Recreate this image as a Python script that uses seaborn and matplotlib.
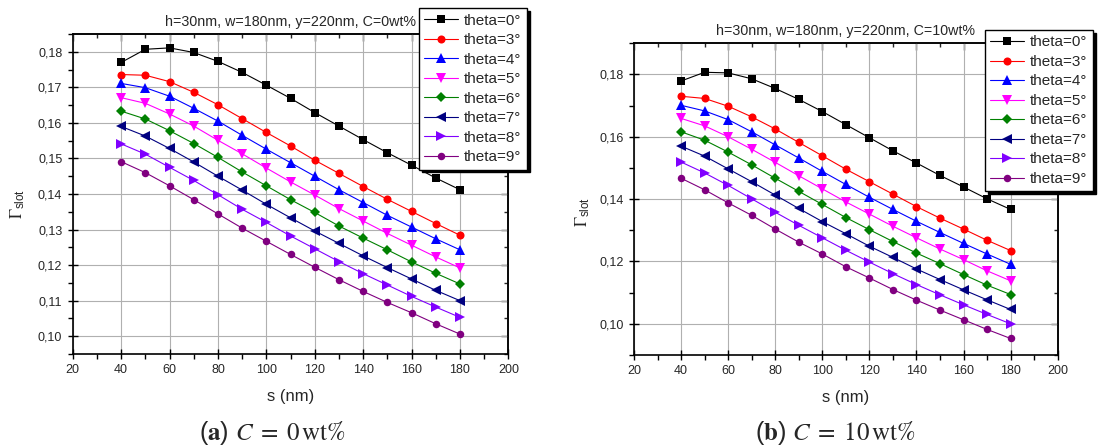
import pandas as pd
import seaborn as sns
import matplotlib.pyplot as plt
from matplotlib.lines import Line2D
from matplotlib.ticker import MultipleLocator, FuncFormatter

# slot width s (nm)
s_nm = [40, 50, 60, 70, 80, 90, 100, 110, 120, 130, 140, 150, 160, 170, 180]
theta_labels = ["theta=0°", "theta=3°", "theta=4°", "theta=5°",
                "theta=6°", "theta=7°", "theta=8°", "theta=9°"]

# (a) C = 0 wt%
c0_theta0 = [0.1770, 0.1807, 0.1811, 0.1798, 0.1773, 0.1742, 0.1706, 0.1669, 0.1629, 0.1591, 0.1553, 0.1516, 0.1481, 0.1445, 0.1412]
c0_theta3 = [0.1736, 0.1734, 0.1716, 0.1686, 0.1651, 0.1612, 0.1573, 0.1535, 0.1495, 0.1458, 0.1421, 0.1385, 0.1351, 0.1317, 0.1284]
c0_theta4 = [0.1711, 0.1699, 0.1675, 0.1641, 0.1605, 0.1565, 0.1526, 0.1488, 0.1450, 0.1412, 0.1376, 0.1340, 0.1307, 0.1274, 0.1243]
c0_theta5 = [0.1671, 0.1655, 0.1625, 0.1591, 0.1551, 0.1513, 0.1473, 0.1434, 0.1397, 0.1359, 0.1324, 0.1289, 0.1256, 0.1223, 0.1192]
c0_theta6 = [0.1633, 0.1611, 0.1578, 0.1542, 0.1503, 0.1462, 0.1423, 0.1384, 0.1348, 0.1310, 0.1276, 0.1243, 0.1209, 0.1177, 0.1147]
c0_theta7 = [0.1590, 0.1563, 0.1528, 0.1490, 0.1450, 0.1411, 0.1371, 0.1333, 0.1296, 0.1261, 0.1226, 0.1193, 0.1161, 0.1129, 0.1100]
c0_theta8 = [0.1541, 0.1512, 0.1475, 0.1438, 0.1398, 0.1357, 0.1320, 0.1282, 0.1246, 0.1210, 0.1176, 0.1144, 0.1112, 0.1082, 0.1053]
c0_theta9 = [0.1491, 0.1460, 0.1423, 0.1384, 0.1344, 0.1304, 0.1267, 0.1230, 0.1194, 0.1159, 0.1126, 0.1095, 0.1066, 0.1035, 0.1006]

# (b) C = 10 wt%
c10_theta0 = [0.1779, 0.1807, 0.1805, 0.1786, 0.1755, 0.1720, 0.1681, 0.1639, 0.1597, 0.1555, 0.1516, 0.1476, 0.1439, 0.1401, 0.1367]
c10_theta3 = [0.1730, 0.1723, 0.1698, 0.1664, 0.1625, 0.1582, 0.1539, 0.1496, 0.1456, 0.1416, 0.1376, 0.1339, 0.1304, 0.1268, 0.1235]
c10_theta4 = [0.1701, 0.1683, 0.1655, 0.1616, 0.1574, 0.1532, 0.1489, 0.1447, 0.1406, 0.1367, 0.1329, 0.1293, 0.1258, 0.1224, 0.1191]
c10_theta5 = [0.1659, 0.1635, 0.1600, 0.1560, 0.1518, 0.1475, 0.1433, 0.1391, 0.1352, 0.1313, 0.1276, 0.1240, 0.1206, 0.1170, 0.1138]
c10_theta6 = [0.1616, 0.1589, 0.1551, 0.1510, 0.1467, 0.1425, 0.1383, 0.1341, 0.1302, 0.1264, 0.1227, 0.1193, 0.1158, 0.1124, 0.1094]
c10_theta7 = [0.1570, 0.1538, 0.1497, 0.1456, 0.1413, 0.1370, 0.1328, 0.1289, 0.1249, 0.1213, 0.1176, 0.1142, 0.1109, 0.1077, 0.1046]
c10_theta8 = [0.1519, 0.1484, 0.1444, 0.1401, 0.1358, 0.1316, 0.1276, 0.1236, 0.1198, 0.1161, 0.1126, 0.1093, 0.1061, 0.1030, 0.1000]
c10_theta9 = [0.1467, 0.1430, 0.1388, 0.1348, 0.1304, 0.1262, 0.1224, 0.1183, 0.1147, 0.1110, 0.1076, 0.1044, 0.1013, 0.0982, 0.0953]

colors = ["#000000", "#ff0000", "#0000ff", "#ff00ff",
          "#008000", "#000080", "#8000ff", "#800080"]
marker_list = ["s", "o", "^", "v", "D", "<", ">", "o"]
marker_sizes = [5.2, 5.8, 6.6, 6.6, 4.8, 6.6, 6.6, 5.4]

sns.set_style("ticks")
plt.rcParams["font.family"] = ["Liberation Sans", "DejaVu Sans"]
plt.rcParams["mathtext.fontset"] = "stix"


def comma_fmt(v, pos):
    return f"{v:.2f}".replace(".", ",")


def draw_panel(ax, series, ylim, ymajor, title, legend_xy, ylabel_xy):
    # one seaborn call per theta so every marker can have its own size
    for label, vals, c, m, ms in zip(theta_labels, series, colors, marker_list, marker_sizes):
        df = pd.DataFrame({"s": s_nm, "gamma": vals})
        sns.lineplot(data=df, x="s", y="gamma", color=c, marker=m, markersize=ms,
                     markeredgewidth=0, linewidth=0.8, ax=ax, zorder=3, label=label,
                     legend=False)

    ax.set_xlim(20, 200)
    ax.set_ylim(*ylim)
    ax.xaxis.set_major_locator(MultipleLocator(20))
    ax.xaxis.set_minor_locator(MultipleLocator(10))
    ax.yaxis.set_major_locator(MultipleLocator(ymajor))
    ax.yaxis.set_minor_locator(MultipleLocator(ymajor / 2))
    ax.yaxis.set_major_formatter(FuncFormatter(comma_fmt))
    ax.grid(True, which="major", color="#b0b0b0", linewidth=0.8, zorder=0)
    ax.tick_params(which="both", labelsize=9, width=1, color="black")
    ax.tick_params(which="major", direction="inout", length=7, pad=4)
    ax.tick_params(which="minor", direction="out", length=3.5)
    for sp in ax.spines.values():
        sp.set_linewidth(1.2)
        sp.set_color("black")

    # top and right: inward ticks only, no labels
    top = ax.secondary_xaxis("top")
    top.xaxis.set_major_locator(MultipleLocator(20))
    top.xaxis.set_minor_locator(MultipleLocator(10))
    top.tick_params(which="both", direction="in", labeltop=False, width=1)
    top.tick_params(which="major", length=5)
    top.tick_params(which="minor", length=3)
    right = ax.secondary_yaxis("right")
    right.yaxis.set_major_locator(MultipleLocator(ymajor))
    right.yaxis.set_minor_locator(MultipleLocator(ymajor / 2))
    right.tick_params(which="both", direction="in", labelright=False, width=1)
    right.tick_params(which="major", length=5)
    right.tick_params(which="minor", length=3)
    for sec in (top, right):
        for sp in sec.spines.values():
            sp.set_linewidth(1.2)

    ax.set_xlabel("s (nm)", fontsize=12, labelpad=9)
    ax.set_ylabel(r"$\Gamma_{\mathregular{slot}}$", fontsize=12)
    ax.yaxis.set_label_coords(*ylabel_xy)
    ax.set_title(title, fontsize=10.3, pad=6)

    handles = [Line2D([], [], color=c, marker=m, markersize=ms, markeredgewidth=0, linewidth=0.8)
               for c, m, ms in zip(colors, marker_list, marker_sizes)]
    leg = ax.legend(handles, theta_labels, loc="upper left", bbox_to_anchor=legend_xy,
                    bbox_transform=ax.figure.transFigure, fontsize=11, frameon=True,
                    fancybox=False, shadow={"color": "black", "alpha": 1},
                    edgecolor="black", framealpha=1, borderaxespad=0,
                    handlelength=2.2, labelspacing=0.36, borderpad=0.35,
                    handletextpad=0.4)
    leg.get_frame().set_linewidth(1.0)
    leg.set_zorder(10)


fig = plt.figure(figsize=(10.99, 4.48), dpi=100)
ax_a = fig.add_axes([0.0662, 0.2098, 0.3964, 0.7143])
ax_b = fig.add_axes([0.5769, 0.2076, 0.3855, 0.6958])

draw_panel(ax_a, [c0_theta0, c0_theta3, c0_theta4, c0_theta5,
                  c0_theta6, c0_theta7, c0_theta8, c0_theta9],
           (0.095, 0.185), 0.01, "h=30nm, w=180nm, y=220nm, C=0wt%",
           (0.3813, 0.9814), (-0.105, 0.47))
draw_panel(ax_b, [c10_theta0, c10_theta3, c10_theta4, c10_theta5,
                  c10_theta6, c10_theta7, c10_theta8, c10_theta9],
           (0.09, 0.19), 0.02, "h=30nm, w=180nm, y=220nm, C=10wt%",
           (0.8963, 0.933), (-0.100, 0.46))

fig.text(0.2475, 0.018, r"($\mathbf{a}$) $C\;=\;0\,\mathrm{wt}\%$", ha="center", fontsize=18)
fig.text(0.760, 0.018, r"($\mathbf{b}$) $C\;=\;10\,\mathrm{wt}\%$", ha="center", fontsize=18)

fig.savefig("out.png", dpi=100)
